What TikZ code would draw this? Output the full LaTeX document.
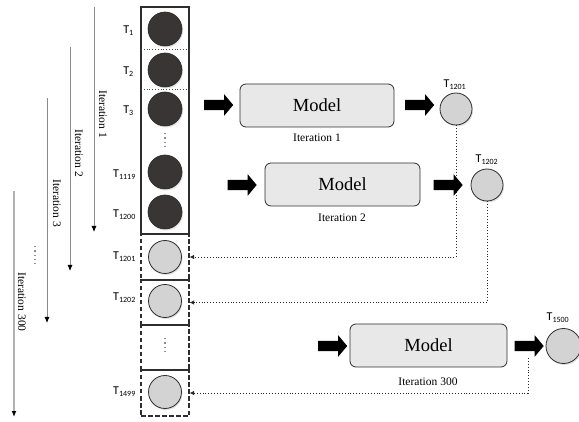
\documentclass[tikz,border=0pt]{standalone}
\usepackage{fontspec}
\setmainfont{Liberation Serif}
\newfontfamily\calib{Carlito}
\usetikzlibrary{shapes.arrows,arrows.meta,shadows}
\definecolor{darkball}{HTML}{3A3535}
\definecolor{lightball}{HTML}{D3D3D3}
\definecolor{modelfill}{HTML}{E8E8E8}
\definecolor{edge}{HTML}{2E2E2E}
\definecolor{itergray}{HTML}{8A8A8A}
\tikzset{
  darkcirc/.style={circle, inner sep=0pt, minimum size=34pt, fill=darkball, draw=black!85, line width=0.6pt,
    drop shadow={opacity=0.25, shadow xshift=1pt, shadow yshift=-1.5pt}},
  lightcirc/.style={circle, inner sep=0pt, minimum size=33pt, fill=lightball, draw=edge, line width=0.8pt,
    drop shadow={opacity=0.25, shadow xshift=1pt, shadow yshift=-1.5pt}},
  modelbox/.style={rectangle, rounded corners=6pt, fill=modelfill, draw=edge, line width=0.8pt,
    minimum height=43pt, inner sep=0pt, font=\fontsize{18.5}{22}\selectfont},
  blockarrow/.style={single arrow, fill=black, draw=none, inner sep=5pt, minimum height=29pt,
    single arrow head extend=5.5pt, single arrow tip angle=100},
  itlabel/.style={font=\fontsize{11.5}{13}\selectfont, inner sep=0pt},
  tlabel/.style={font=\calib\fontsize{12}{14}\selectfont, inner sep=0pt},
  iterline/.style={draw=itergray, line width=0.8pt, -{Latex[length=6pt,width=5pt,color=black]}},
  dashcell/.style={rectangle, draw=edge, line width=1.1pt, dash pattern=on 4.5pt off 2.5pt,
    minimum width=48pt, inner sep=0pt},
  feedback/.style={draw=black!85, line width=0.9pt, dotted, -{Latex[length=4.5pt,width=4.5pt]}},
  vdots/.style={draw=gray!90, line width=2pt, dash pattern=on 1.5pt off 2.8pt},
}
\begin{document}
\begin{tikzpicture}[x=1pt,y=-1pt]
\useasboundingbox (0,0) rectangle (579,422);

% ---------- iteration arrows ----------
\coordinate (i1s) at (94,7);   \coordinate (i1e) at (94,232);
\coordinate (i2s) at (70,47);  \coordinate (i2e) at (70,271);
\coordinate (i3s) at (47,98);  \coordinate (i3e) at (47,323);
\coordinate (i4s) at (14,191); \coordinate (i4e) at (14,417);
\draw[iterline] (i1s) -- (i1e);
\draw[iterline] (i2s) -- (i2e);
\draw[iterline] (i3s) -- (i3e);
\draw[iterline, draw=black!30, line width=1.6pt] (i4s) -- (i4e);
\node[itlabel, rotate=-90] (l1) at (103,114) {Iteration 1};
\node[itlabel, rotate=-90] (l2) at (79,153) {Iteration 2};
\node[itlabel, rotate=-90] (l3) at (57,203) {Iteration 3};
\node[itlabel, rotate=-90] (l4) at (22,302) {Iteration 300};
\draw[vdots] (35,246) -- (35,264);

% ---------- column ----------
\draw[edge, line width=1.1pt] (141,7) rectangle (189,234);
\draw[black!70, line width=0.8pt, dotted] (141,49) -- (189,49);
\draw[black!70, line width=0.8pt, dotted] (141,89) -- (189,89);

\node[darkcirc] (t1) at (165,29) {};
\node[darkcirc] (t2) at (165,70) {};
\node[darkcirc] (t3) at (165,109) {};
\draw[vdots] (165,133) -- (165,150);
\node[darkcirc] (t1119) at (165,172) {};
\node[darkcirc] (t1200) at (165,212) {};

\node[dashcell, minimum height=46pt] (cell1201) at (165,257) {};
\node[dashcell, minimum height=45pt] (cell1202) at (165,302.5) {};
\node[dashcell, minimum height=45pt] (celldots) at (165,347.5) {};
\node[dashcell, minimum height=46pt] (cell1499) at (165,393) {};
\draw[edge, line width=0.9pt] (141,325) -- (189,325);
\draw[edge, line width=0.9pt] (141,370) -- (189,370);

\node[lightcirc] (c1201) at (165,257) {};
\node[lightcirc] (c1202) at (165,301) {};
\draw[vdots] (165,338) -- (165,355);
\node[lightcirc] (c1499) at (165,392) {};

\node[tlabel, anchor=east] at (134,31) {T\textsubscript{1}};
\node[tlabel, anchor=east] at (134,72) {T\textsubscript{2}};
\node[tlabel, anchor=east] at (134,111) {T\textsubscript{3}};
\node[tlabel, anchor=east] at (136,175) {T\textsubscript{1119}};
\node[tlabel, anchor=east] at (136,215) {T\textsubscript{1200}};
\node[tlabel, anchor=east] at (136,257) {T\textsubscript{1201}};
\node[tlabel, anchor=east] at (136,298) {T\textsubscript{1202}};
\node[tlabel, anchor=east] at (136,392) {T\textsubscript{1499}};

% ---------- models ----------
\node[modelbox, minimum width=154pt] (m1) at (317,105.5) {Model};
\node[itlabel] at (317,138) {Iteration 1};
\node[blockarrow] (a1in) at (216.5,105) {};
\node[blockarrow] (a1out) at (417.5,105) {};
\node[lightcirc, minimum size=32pt, drop shadow={opacity=0}] (o1) at (456,109) {};
\node[tlabel] at (455,85) {T\textsubscript{1201}};

\node[modelbox, minimum width=155pt] (m2) at (342.5,184.5) {Model};
\node[itlabel] at (342,218) {Iteration 2};
\node[blockarrow] (a2in) at (240,185) {};
\node[lightcirc, minimum size=32pt] (o2) at (487,185) {};
\node[tlabel] at (487,160) {T\textsubscript{1202}};

\node[modelbox, minimum width=157pt] (m3) at (428.5,345.5) {Model};
\node[itlabel] at (428,382) {Iteration 300};
\node[blockarrow] (a3in) at (330.5,346) {};
\node[blockarrow] (a3out) at (527,346) {};
\node[lightcirc, minimum size=35pt] (o3) at (563.5,346) {};
\node[tlabel] at (558,318) {T\textsubscript{1500}};

% ---------- feedback ----------
\draw[feedback] (o1.south) |- (cell1201.east);
\node[blockarrow] (a2out) at (446,185) {};
\draw[feedback] (o2.south) |- (cell1202.east);
\coordinate (f3) at (528,358);
\draw[feedback] (f3) |- (cell1499.east);
\end{tikzpicture}
\end{document}
